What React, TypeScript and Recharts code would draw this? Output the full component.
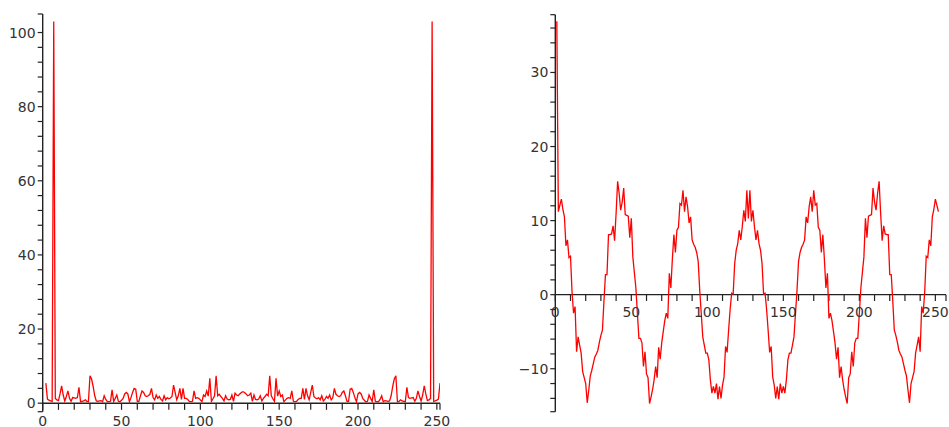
import { LineChart, Line, XAxis, YAxis, ReferenceLine } from "recharts";

// magnitude spectrum, samples 2..252
const spectrumValues = [
  5.4, 1.1, 0.8, 0.6, 0.5, 103, 1.3, 0.9, 0.7, 2.5,
  4.7, 2.2, 0.6, 1.8, 3.3, 1.3, 0.5, 1.5, 1.4, 1.3,
  1.5, 4.3, 0.4, 0.5, 0.6, 0.9, 0.5, 0.4, 7.4, 6.5,
  4.5, 2.0, 0.6, 0.5, 0.6, 0.7, 0.4, 2.0, 1.0, 0.4,
  0.4, 0.5, 3.6, 0.5, 1.3, 2.2, 0.5, 0.4, 0.8, 1.3,
  2.5, 2.9, 2.5, 0.4, 1.5, 2.9, 4.0, 3.8, 0.5, 0.5,
  2.0, 3.3, 2.9, 2.0, 1.8, 2.0, 2.4, 4.0, 1.5, 0.9,
  2.2, 1.3, 1.8, 1.0, 0.6, 2.0, 0.9, 1.5, 1.2, 1.4,
  1.8, 4.9, 2.9, 0.9, 2.0, 4.0, 1.0, 4.0, 1.3, 1.3,
  1.0, 0.5, 0.4, 0.5, 3.3, 1.3, 1.5, 1.3, 0.9, 0.4,
  2.2, 1.8, 3.3, 1.9, 6.7, 0.5, 1.2, 2.0, 7.4, 2.0,
  2.4, 1.8, 1.3, 0.6, 2.0, 1.1, 0.9, 1.0, 2.2, 0.5,
  2.7, 2.2, 2.0, 2.5, 2.9, 3.1,
  2.9, 2.5, 2.0, 2.2, 2.7,
  0.5, 2.2, 1.0, 0.9, 1.1, 2.0, 0.6, 1.3, 1.8, 2.4,
  2.0, 7.4, 2.0, 1.2, 0.5, 6.7, 1.9, 3.3, 1.8, 2.2,
  0.4, 0.9, 1.3, 1.5, 1.3, 3.3, 0.5, 0.4, 0.5, 1.0,
  1.3, 1.3, 4.0, 1.0, 4.0, 2.0, 0.9, 2.9, 4.9, 1.8,
  1.4, 1.2, 1.5, 0.9, 2.0, 0.6, 1.0, 1.8, 1.3, 2.2,
  0.9, 1.5, 4.0, 2.4, 2.0, 1.8, 2.0, 2.9, 3.3, 2.0,
  0.5, 0.5, 3.8, 4.0, 2.9, 1.5, 0.4, 2.5, 2.9, 2.5,
  1.3, 0.8, 0.4, 0.5, 2.2, 1.3, 0.5, 3.6, 0.5, 0.4,
  0.4, 1.0, 2.0, 0.4, 0.7, 0.6, 0.5, 0.6, 2.0, 4.5,
  6.5, 7.4, 0.4, 0.5, 0.9, 0.6, 0.5, 0.4, 4.3, 1.5,
  1.3, 1.4, 1.5, 0.5, 1.3, 3.3, 1.8, 0.6, 2.2, 4.7,
  2.5, 0.7, 0.9, 1.3, 103, 0.5, 0.6, 0.8, 1.1, 5.4,
];

// time signal, samples 1..252
const signalValues = [
  36.9,
  11.2, 12.1, 12.9, 11.5, 10.5, 6.6, 7.4, 5.0, 5.2, 0.4,
  -2.5, -1.6, -7.7, -5.7, -6.8, -7.9, -10.4, -11.2, -12.0, -14.6,
  -12.9, -11.0, -10.2, -9.3, -8.4, -8.0, -7.5, -6.4, -5.5, -4.8,
  -0.9, 2.7, 2.7, 8.1, 8.1, 8.2, 9.3, 7.3, 11.0, 15.3,
  13.7, 11.4, 12.5, 14.4, 10.8, 10.7, 10.6, 7.7, 10.3, 5.1,
  3.0, 0.9, -2.5, -5.9, -5.9, -6.5, -9.7, -7.7, -10.7, -11.2,
  -14.7, -13.8, -12.8, -11.5, -9.7, -11.2, -7.1, -8.7, -6.5, -5.0,
  -3.5, -2.5, -3.2, 2.9, 0.9, 4.8, 8.1, 5.7, 8.7, 9.1,
  12.3, 12.1, 14.1, 11.2, 13.2, 11.9, 9.7, 10.5, 7.4, 6.8,
  6.4, 5.7, 4.5, 0.6, -2.5, -5.7, -6.8, -7.9, -7.9, -8.8,
  -11.5, -13.3, -12.4, -13.3, -12.0, -14.1, -12.4, -14.0, -12.2, -11.1,
  -7.0, -7.8, -4.8, -2.0, 0.2, 0.1, 4.2, 6.0, 6.9, 8.7,
  7.4, 9.2, 11.4, 9.9, 14.1, 10.3,
  14.1, 9.9, 11.4, 9.2, 7.4,
  8.7, 6.9, 6.0, 4.2, 0.1, 0.2, -2.0, -4.8, -7.8, -7.0,
  -11.1, -12.2, -14.0, -12.4, -14.1, -12.0, -13.3, -12.4, -13.3, -11.5,
  -8.8, -7.9, -7.9, -6.8, -5.7, -2.5, 0.6, 4.5, 5.7, 6.4,
  6.8, 7.4, 10.5, 9.7, 11.9, 13.2, 11.2, 14.1, 12.1, 12.3,
  9.1, 8.7, 5.7, 8.1, 4.8, 0.9, 2.9, -3.2, -2.5, -3.5,
  -5.0, -6.5, -8.7, -7.1, -11.2, -9.7, -11.5, -12.8, -13.8, -14.7,
  -11.2, -10.7, -7.7, -9.7, -6.5, -5.9, -5.9, -2.5, 0.9, 3.0,
  5.1, 10.3, 7.7, 10.6, 10.7, 10.8, 14.4, 12.5, 11.4, 13.7,
  15.3, 11.0, 7.3, 9.3, 8.2, 8.1, 8.1, 2.7, 2.7, -0.9,
  -4.8, -5.5, -6.4, -7.5, -8.0, -8.4, -9.3, -10.2, -11.0, -12.9,
  -14.6, -12.0, -11.2, -10.4, -7.9, -6.8, -5.7, -7.7, -1.6, -2.5,
  0.4, 5.2, 5.0, 7.4, 6.6, 10.5, 11.5, 12.9, 12.1, 11.2,
];

const spectrumIndex = spectrumValues.map((_, i) => i + 2);
const signalIndex = signalValues.map((_, i) => i + 1);

const xLabels = [0, 50, 100, 150, 200, 250];
const spectrumXTicks = [0, 10, 20, 30, 40, 50, 60, 70, 80, 90, 100, 110, 120, 130, 140, 150, 160, 170, 180, 190, 200, 210, 220, 230, 240, 250, 252];
const signalXTicks = [0, 10, 20, 30, 40, 50, 60, 70, 80, 90, 100, 110, 120, 130, 140, 150, 160, 170, 180, 190, 200, 210, 220, 230, 240, 250, 257];

const spectrumYLabels = [0, 20, 40, 60, 80, 100];
const spectrumYTicks = [-2.3, 0, 4, 8, 12, 16, 20, 24, 28, 32, 36, 40, 44, 48, 52, 56, 60, 64, 68, 72, 76, 80, 84, 88, 92, 96, 100, 105];
const signalYLabels = [-10, 0, 10, 20, 30];
const signalYTicks = [-15.8, -14, -12, -10, -8, -6, -4, -2, 0, 2, 4, 6, 8, 10, 12, 14, 16, 18, 20, 22, 24, 26, 28, 30, 32, 34, 36, 37.8];

const spectrumData = spectrumIndex.map((x, i) => ({ x, y: spectrumValues[i] }));
const signalData = signalIndex.map((x, i) => ({ x, y: signalValues[i] }));

const FONT = "DejaVu Sans";
const TEXT = "#333";
const AXIS = "#222";

const fmt = (v: number) => (v < 0 ? `\u2212${-v}` : `${v}`);

function xAxisMarks(ticks: number[], len: number) {
  const out = [
    <ReferenceLine key="axis" y={0} stroke={AXIS} strokeWidth={1.4} />,
  ];
  ticks.forEach((t) => {
    const lab = xLabels.includes(t);
    out.push(
      <ReferenceLine
        key={`t${t}`}
        segment={[{ x: t, y: 0 }, { x: t, y: -len }]}
        stroke={AXIS}
        strokeWidth={1.2}
        label={
          lab
            ? { value: fmt(t), position: "bottom", offset: 6.5, fill: TEXT, fontSize: 14, fontFamily: FONT }
            : undefined
        }
      />
    );
  });
  return out;
}

function Panel({
  data, xMax, yDomain, yTicks, yLabels, tickLen, width, yAxisWidth, right, top,
}: any) {
  return (
    <LineChart
      width={width}
      height={427}
      data={data}
      margin={{ top, right, bottom: 15.3, left: 0 }}
    >
      <XAxis type="number" dataKey="x" domain={[0, xMax]} allowDataOverflow hide />
      <YAxis
        type="number"
        domain={yDomain}
        allowDataOverflow
        ticks={yTicks}
        interval={0}
        width={yAxisWidth}
        tickSize={5}
        tickMargin={2}
        tickFormatter={(v: number) => (yLabels.includes(v) ? fmt(v) : "")}
        tick={{ fill: TEXT, fontSize: 14, fontFamily: FONT }}
        axisLine={{ stroke: AXIS, strokeWidth: 1.4 }}
        tickLine={{ stroke: AXIS, strokeWidth: 1.2 }}
      />
      {xAxisMarks(xMax > 253 ? signalXTicks : spectrumXTicks, tickLen)}
      <Line
        type="linear"
        dataKey="y"
        stroke="#ff0000"
        strokeWidth={1.3}
        dot={false}
        isAnimationActive={false}
      />
    </LineChart>
  );
}

export default function App() {
  return (
    <div style={{ position: "absolute", left: 0, top: 0, width: 949, height: 427, background: "#fff" }}>
      <div style={{ position: "absolute", left: 0, top: 0 }}>
        <Panel
          data={spectrumData}
          xMax={252}
          yDomain={[-2.3, 105]}
          yTicks={spectrumYTicks}
          yLabels={spectrumYLabels}
          tickLen={1.8}
          width={470}
          yAxisWidth={42.7}
          right={30}
          top={14}
        />
      </div>
      <div style={{ position: "absolute", left: 480, top: 0 }}>
        <Panel
          data={signalData}
          xMax={257}
          yDomain={[-15.8, 37.8]}
          yTicks={signalYTicks}
          yLabels={signalYLabels}
          tickLen={0.85}
          width={469}
          yAxisWidth={75.3}
          right={3}
          top={14.7}
        />
      </div>
    </div>
  );
}
